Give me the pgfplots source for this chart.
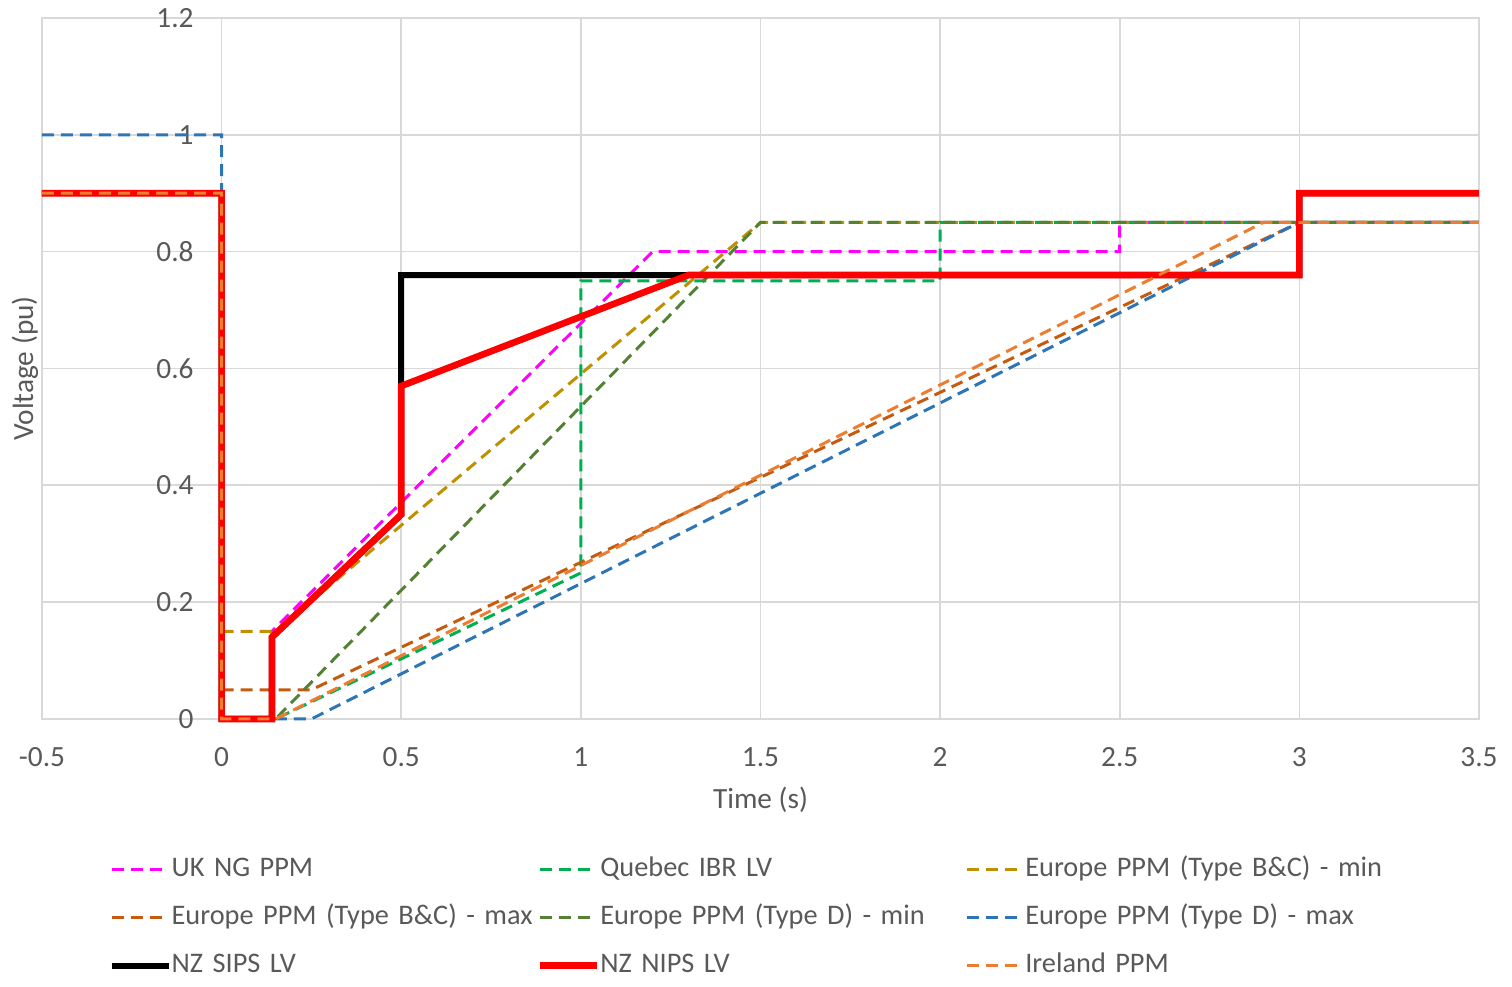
\documentclass[border=0pt]{standalone}
\usepackage{pgfplots}
\pgfplotsset{compat=1.18}
\usepackage{fontspec}
\setmainfont{Carlito}

\definecolor{ukc}{HTML}{FF00FF}
\definecolor{qbc}{HTML}{00B050}
\definecolor{bcmin}{HTML}{BF9000}
\definecolor{bcmax}{HTML}{C55A11}
\definecolor{dmin}{HTML}{548235}
\definecolor{dmax}{HTML}{2E75B6}
\definecolor{ire}{HTML}{ED7D31}
\definecolor{txt}{HTML}{595959}
\definecolor{gridc}{HTML}{D9D9D9}

\pgfplotsset{
  dsh/.style={line width=0.9pt, dash pattern=on 3.6pt off 2.1pt},
}

\begin{document}
\begin{tikzpicture}[font=\fontsize{8.8}{10.5}\selectfont]
\useasboundingbox (-12.6pt,-80.4pt) rectangle (441pt,215.7pt);
\begin{axis}[
  scale only axis, width=431.1pt, height=210.3pt,
  xmin=-0.5, xmax=3.5, ymin=0, ymax=1.2,
  xtick={-0.5,0,0.5,1,1.5,2,2.5,3,3.5},
  ytick={0,0.2,0.4,0.6,0.8,1,1.2},
  grid=major, grid style={gridc, line width=0.5pt},
  axis line style={gridc, line width=0.5pt},
  major tick length=0pt,
  tick label style={txt, /pgf/number format/assume math mode=true},
  xticklabel style={yshift=-5pt},
  yticklabel style={xshift=49pt},
  xlabel={Time (s)}, ylabel={Voltage (pu)},
  label style={txt},
  xlabel style={at={(axis description cs:0.5,0)}, anchor=center, yshift=-24.3pt},
  ylabel style={at={(axis description cs:0,0.5)}, anchor=center, yshift=5.1pt},
  clip=false,
  legend columns=3,
  legend cell align=left,
  legend image code/.code={\draw[#1] (0pt,0pt) -- (17.1pt,0pt);},
  legend style={at={(axis description cs:0,0)}, anchor=north west,
    xshift=19.8pt, yshift=-40.9pt, draw=none, fill=none, inner sep=0pt,
    text=txt, row sep=6.2pt, /tikz/column sep=0pt,
    font=\fontsize{8.5}{10}\selectfont,
    nodes={text width=109.5pt, align=left, inner xsep=0pt, inner ysep=0pt,
      text height=6.3pt, text depth=1.9pt}},
]
% UK NG PPM
\addplot[ukc, dsh] coordinates {(-0.5,0.9) (0,0.9) (0,0) (0.14,0) (0.14,0.15) (1.2,0.8) (2.5,0.8) (2.5,0.85) (3.5,0.85)};
% Quebec IBR LV
\addplot[qbc, dsh] coordinates {(0,0) (0.15,0) (1,0.25) (1,0.75) (2,0.75) (2,0.85) (3.5,0.85)};
% Europe B&C min
\addplot[bcmin, dsh] coordinates {(0,0.15) (0.15,0.15) (1.5,0.85) (3.5,0.85)};
% Europe B&C max
\addplot[bcmax, dsh] coordinates {(0,0.05) (0.25,0.05) (3,0.85) (3.5,0.85)};
% Europe D min
\addplot[dmin, dsh] coordinates {(0,0) (0.15,0) (1.5,0.85) (3.5,0.85)};
% Europe D max
\addplot[dmax, dsh] coordinates {(-0.5,1) (0,1) (0,0) (0.25,0) (3,0.85) (3.5,0.85)};
% NZ SIPS LV
\addplot[black, line width=1.8pt] coordinates {(-0.5,0.9) (0,0.9) (0,0) (0.14,0) (0.14,0.14) (0.5,0.35) (0.5,0.76) (3,0.76) (3,0.9) (3.5,0.9)};
% NZ NIPS LV
\addplot[red, line width=2pt] coordinates {(-0.5,0.9) (0,0.9) (0,0) (0.14,0) (0.14,0.14) (0.5,0.35) (0.5,0.57) (1.3,0.76) (3,0.76) (3,0.9) (3.5,0.9)};
% Ireland PPM
\addplot[ire, dsh] coordinates {(-0.5,0.9) (0,0.9) (0,0) (0.15,0) (2.9,0.85) (3.5,0.85)};
\legend{UK NG PPM, Quebec IBR LV, Europe PPM (Type B\&C) - min,
  Europe PPM (Type B\&C) - max, Europe PPM (Type D) - min, Europe PPM (Type D) - max,
  NZ SIPS LV, NZ NIPS LV, Ireland PPM}
\end{axis}
\end{tikzpicture}
\end{document}
